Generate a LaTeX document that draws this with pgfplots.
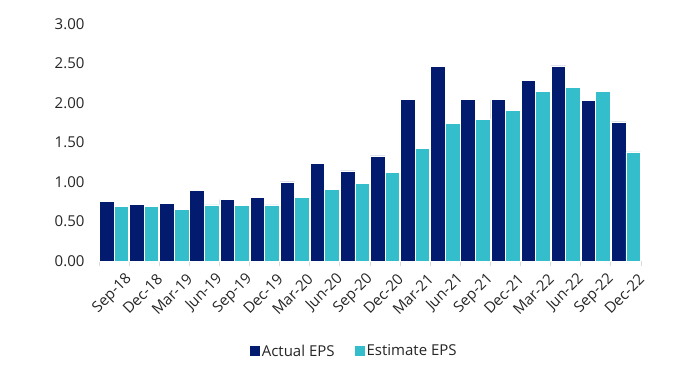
\documentclass[border=0pt]{standalone}
\usepackage{fontspec}
\setmainfont{Open Sans}
\usepackage{pgfplots}
\pgfplotsset{compat=1.18}
\definecolor{navy}{RGB}{2,27,110}
\definecolor{teal}{RGB}{52,190,204}
\definecolor{axgray}{RGB}{217,217,217}
\begin{document}
\begin{tikzpicture}
\path[use as bounding box] (-99pt,-113pt) rectangle (592pt,261pt);
\begin{axis}[
  at={(0,0)}, anchor=south west,
  scale only axis, width=542pt, height=237pt,
  ybar=0pt, bar width=14.6pt,
  xmin=-0.5, xmax=17.5,
  ymin=0, ymax=3,
  ytick={0,0.5,...,3},
  /pgf/number format/.cd, fixed, fixed zerofill, precision=2, assume math mode=true,
  /pgfplots/.cd,
  yticklabel style={xshift=-11pt},
  xtick={0,...,17},
  xticklabels={Sep-18,Dec-18,Mar-19,Jun-19,Sep-19,Dec-19,Mar-20,Jun-20,Sep-20,Dec-20,Mar-21,Jun-21,Sep-21,Dec-21,Mar-22,Jun-22,Sep-22,Dec-22},
  xticklabel style={rotate=45, anchor=east, inner sep=0pt, yshift=-22pt, xshift=0pt},
  extra x ticks={-0.5,0.5,...,17.5},
  extra x tick labels={},
  extra x tick style={major tick length=5pt, tick align=outside, tick style={axgray, line width=0.8pt}},
  major tick length=0pt,
  axis x line*=bottom, axis y line*=left,
  x axis line style={axgray, line width=0.8pt, -},
  y axis line style={draw=none},
  ytick style={draw=none},
  tick label style={font=\fontsize{15}{17}\selectfont, text=black!85},
  legend style={at={(0.471,-0.38)}, anchor=center, draw=none, legend columns=2,
    font=\fontsize{15}{17}\selectfont, text=black!85, inner sep=0pt,
    nodes={inner sep=1.5pt}},
  legend image code/.code={\path[#1, draw=none] (0pt,-5pt) rectangle (10pt,5pt);},
  clip=false,
]
\addplot[fill=navy, draw=white, line width=0.7pt] coordinates {
(0,0.75) (1,0.72) (2,0.73) (3,0.89) (4,0.78) (5,0.81) (6,1.00) (7,1.24) (8,1.14)
(9,1.33) (10,2.04) (11,2.46) (12,2.05) (13,2.04) (14,2.29) (15,2.47) (16,2.03) (17,1.76)};
\addplot[fill=teal, draw=white, line width=0.7pt] coordinates {
(0,0.69) (1,0.69) (2,0.65) (3,0.71) (4,0.70) (5,0.71) (6,0.81) (7,0.91) (8,0.98)
(9,1.12) (10,1.43) (11,1.74) (12,1.79) (13,1.91) (14,2.15) (15,2.20) (16,2.15) (17,1.38)};
\addlegendentry{Actual EPS\hspace*{19pt}}
\addlegendentry{Estimate EPS}
\end{axis}
\end{tikzpicture}
\end{document}
